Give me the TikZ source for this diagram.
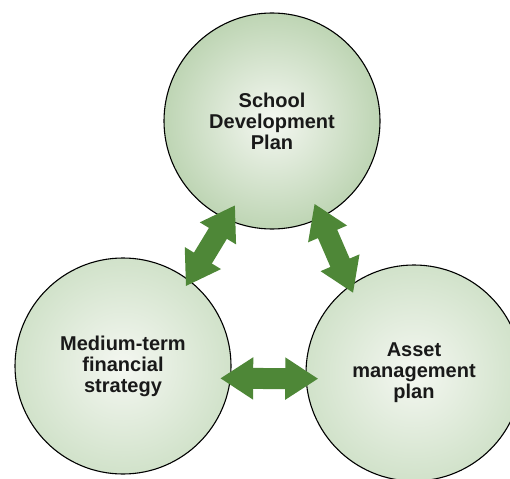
\documentclass[tikz,border=0pt]{standalone}
\usepackage{fontspec}
\setmainfont{Liberation Sans}
\usetikzlibrary{arrows.meta,calc}
\definecolor{leaf}{RGB}{78,135,55}
\definecolor{rimA}{RGB}{190,213,180}
\definecolor{rimB}{RGB}{209,226,202}
\definecolor{core}{RGB}{244,247,241}
\tikzset{
  ball/.style={circle, draw=black, line width=1.1pt, minimum size=216pt, inner sep=0pt,
    shading=radial, inner color=core, outer color=#1, align=center,
    font=\fontsize{20}{21}\selectfont\bfseries, text=black!90},
  dblarrow/.style={leaf, line width=21pt,
    {Triangle[length=33pt,width=40pt]}-{Triangle[length=33pt,width=40pt]}}
}
\begin{document}
\begin{tikzpicture}[x=1pt,y=-1pt]
\useasboundingbox (0,0) rectangle (510,478);
\node[ball=rimA] (sdp) at (272,121) {School\\Development\\Plan};
\node[ball=rimB] (mtfs) at (123,366) {Medium-term\\financial\\strategy};
\node[ball=rimB] (amp) at (414,373) {Asset\\management\\plan};
% arrows between the plans
\draw[dblarrow] ($(sdp)!0.315!(mtfs)+(10,7)$) -- ($(sdp)!0.646!(mtfs)+(10,7)$);
\draw[dblarrow] ($(sdp)!0.32!(amp)+(-3,2)$) -- ($(sdp)!0.635!(amp)+(-9,12)$);
\draw[dblarrow] ($(mtfs)!0.334!(amp)+(0,10)$) -- ($(mtfs)!0.671!(amp)+(0,8)$);
\end{tikzpicture}
\end{document}
